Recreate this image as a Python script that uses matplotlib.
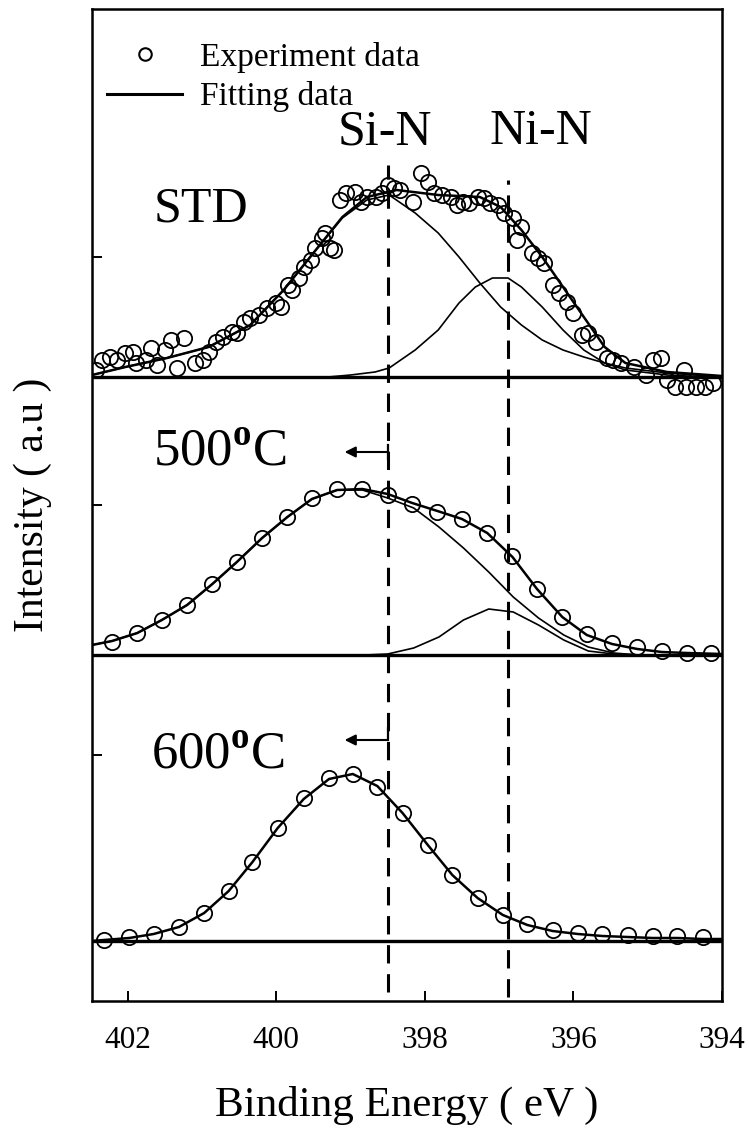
import numpy as np
import matplotlib
matplotlib.use("Agg")
import matplotlib.pyplot as plt

plt.rcParams['font.family'] = ['Liberation Serif', 'DejaVu Serif']
plt.rcParams['mathtext.fontset'] = 'custom'
plt.rcParams['mathtext.rm'] = 'Liberation Serif'
plt.rcParams['mathtext.bf'] = 'Liberation Serif:bold'

# ---- STD spectrum (experiment) ----
std_e = [402.42, 402.34, 402.24, 402.14, 402.03, 401.93, 401.89, 401.75, 401.69, 401.61,
         401.50, 401.41, 401.33, 401.24, 401.10, 400.99, 400.91, 400.81, 400.71, 400.60,
         400.53, 400.43, 400.35, 400.23, 400.12, 400.01, 399.93, 399.84, 399.79, 399.70,
         399.62, 399.53, 399.48, 399.39, 399.34, 399.28, 399.22, 399.14, 399.06, 398.94,
         398.86, 398.78, 398.66, 398.58, 398.50, 398.41, 398.33, 398.16, 398.05, 397.96,
         397.88, 397.77, 397.65, 397.57, 397.49, 397.40, 397.29, 397.21, 397.12, 397.01,
         396.93, 396.81, 396.70, 396.76, 396.56, 396.48, 396.39, 396.28, 396.20, 396.08,
         396.00, 395.89, 395.80, 395.69, 395.55, 395.47, 395.36, 395.19, 395.02, 394.93,
         394.82, 394.74, 394.63, 394.51, 394.49, 394.35, 394.23, 394.12]
std_i = [0.07, 0.17, 0.20, 0.17, 0.24, 0.25, 0.14, 0.17, 0.29, 0.12,
         0.27, 0.37, 0.09, 0.39, 0.14, 0.17, 0.25, 0.35, 0.40, 0.45,
         0.44, 0.55, 0.59, 0.62, 0.69, 0.74, 0.70, 0.92, 0.87, 0.99,
         1.10, 1.17, 1.29, 1.39, 1.44, 1.29, 1.27, 1.77, 1.84, 1.85,
         1.75, 1.80, 1.80, 1.84, 1.92, 1.89, 1.87, 1.75, 2.04, 1.95,
         1.84, 1.82, 1.80, 1.72, 1.75, 1.74, 1.80, 1.79, 1.74, 1.72,
         1.64, 1.59, 1.50, 1.37, 1.24, 1.19, 1.14, 0.92, 0.84, 0.75,
         0.64, 0.42, 0.44, 0.35, 0.19, 0.17, 0.14, 0.10, 0.02, 0.17,
         0.19, -0.03, -0.10, 0.07, -0.10, -0.10, -0.10, -0.06]

# STD fitting envelope and components
std_fit_e = [402.48, 402.03, 401.47, 400.91, 400.35, 399.90, 399.50, 399.11, 398.78, 398.38,
             397.82, 397.26, 396.98, 396.70, 396.42, 396.14, 395.86, 395.58, 395.30, 394.74,
             394.18, 394.0]
std_fit_i = [0.02, 0.10, 0.19, 0.30, 0.52, 0.87, 1.24, 1.60, 1.80, 1.87,
             1.82, 1.80, 1.70, 1.47, 1.20, 0.90, 0.60, 0.30, 0.14, 0.05,
             0.02, 0.01]
std_sin_e = [402.48, 402.03, 401.47, 400.91, 400.35, 399.90, 399.50, 399.11, 398.78, 398.48,
             398.13, 397.82, 397.54, 397.26, 396.98, 396.70, 396.42, 396.14, 395.86, 395.58,
             395.30, 394.74, 394.18, 394.0]
std_sin_i = [0.02, 0.10, 0.19, 0.30, 0.52, 0.87, 1.24, 1.59, 1.77, 1.82,
             1.64, 1.44, 1.20, 0.94, 0.70, 0.52, 0.37, 0.27, 0.20, 0.14,
             0.09, 0.04, 0.01, 0.01]
std_nin_e = [399.30, 399.00, 398.67, 398.48, 398.13, 397.82, 397.54, 397.32, 397.09, 396.88,
             396.70, 396.42, 396.14, 395.86, 395.58, 395.30, 394.74, 394.20]
std_nin_i = [0.0, 0.02, 0.05, 0.09, 0.27, 0.47, 0.74, 0.90, 0.99, 0.99,
             0.90, 0.70, 0.47, 0.27, 0.14, 0.07, 0.02, 0.0]

# ---- 500 C spectrum ----
e500 = [402.21, 401.87, 401.54, 401.20, 400.86, 400.53, 400.19, 399.85, 399.52, 399.18,
        398.84, 398.50, 398.17, 397.83, 397.50, 397.16, 396.82, 396.49, 396.15, 395.82,
        395.48, 395.14, 394.81, 394.47, 394.15]
i500 = [0.13, 0.22, 0.35, 0.50, 0.71, 0.93, 1.17, 1.38, 1.57, 1.66,
        1.66, 1.60, 1.51, 1.43, 1.36, 1.22, 0.99, 0.66, 0.38, 0.21,
        0.12, 0.08, 0.04, 0.02, 0.02]
fit500_e = [402.48, 402.21, 401.87, 401.54, 401.20, 400.86, 400.53, 400.19, 399.85, 399.52,
            399.18, 398.84, 398.50, 398.17, 397.83, 397.50, 397.16, 396.82, 396.49, 396.15,
            395.82, 395.48, 395.14, 394.81, 394.47, 394.0]
fit500_i = [0.10, 0.14, 0.22, 0.35, 0.50, 0.71, 0.93, 1.17, 1.38, 1.56,
            1.65, 1.66, 1.61, 1.52, 1.44, 1.36, 1.22, 0.98, 0.66, 0.38,
            0.20, 0.11, 0.06, 0.03, 0.02, 0.01]
sin500_e = [402.48, 402.21, 401.87, 401.54, 401.20, 400.86, 400.53, 400.19, 399.85, 399.52,
            399.18, 398.84, 398.50, 398.15, 397.81, 397.48, 397.14, 396.81, 396.47, 396.13,
            395.80, 395.46, 395.12, 394.0]
sin500_i = [0.10, 0.14, 0.22, 0.35, 0.50, 0.71, 0.93, 1.17, 1.38, 1.56,
            1.65, 1.65, 1.57, 1.47, 1.28, 1.07, 0.83, 0.58, 0.37, 0.20,
            0.08, 0.02, 0.0, 0.0]
nin500_e = [398.80, 398.50, 398.15, 397.81, 397.48, 397.14, 396.81, 396.47, 396.13, 395.80,
            395.46, 395.10]
nin500_i = [0.0, 0.01, 0.07, 0.18, 0.35, 0.46, 0.43, 0.30, 0.15, 0.04,
            0.01, 0.0]

# ---- 600 C spectrum ----
e600 = [402.32, 401.98, 401.65, 401.31, 400.97, 400.64, 400.32, 399.98, 399.63, 399.29,
        398.97, 398.64, 398.30, 397.96, 397.63, 397.29, 396.95, 396.62, 396.28, 395.94,
        395.61, 395.27, 394.93, 394.60, 394.26]
i600 = [0.01, 0.04, 0.07, 0.14, 0.28, 0.50, 0.79, 1.13, 1.43, 1.63,
        1.67, 1.54, 1.28, 0.96, 0.66, 0.43, 0.26, 0.17, 0.11, 0.08,
        0.07, 0.06, 0.05, 0.05, 0.04]
fit600_e = [402.48, 402.32, 401.98, 401.65, 401.31, 400.97, 400.64, 400.32, 399.98, 399.63,
            399.29, 398.97, 398.64, 398.30, 397.96, 397.63, 397.29, 396.95, 396.62, 396.28,
            395.94, 395.61, 395.27, 394.93, 394.60, 394.26, 394.0]
fit600_i = [0.0, 0.01, 0.03, 0.07, 0.14, 0.28, 0.50, 0.79, 1.13, 1.42,
            1.62, 1.67, 1.55, 1.28, 0.96, 0.66, 0.43, 0.26, 0.16, 0.10,
            0.07, 0.05, 0.04, 0.03, 0.03, 0.02, 0.02]

# vertical offsets of the stacked spectra
offsets = {'STD': 6.24, '500': 3.46, '600': 0.60}
ytick_pos = [2.46, 4.96, 7.44]
xticks = [402, 400, 398, 396, 394]
si_n, ni_n = 398.5, 396.88

fig = plt.figure(figsize=(7.49, 11.28), dpi=100)
ax = fig.add_axes([92 / 749, 1 - 1001 / 1128, 630 / 749, 992 / 1128])

mk = dict(ls='none', marker='o', ms=11, mfc='none', mec='black', mew=1.3, zorder=4)

# baselines
for off in offsets.values():
    ax.axhline(off, color='black', lw=2.4, zorder=3)

o = offsets['STD']
ax.plot(std_fit_e, np.array(std_fit_i) + o, color='black', lw=1.8, zorder=3)
ax.plot(std_sin_e, np.array(std_sin_i) + o, color='black', lw=1.2, zorder=3)
ax.plot(std_nin_e, np.array(std_nin_i) + o, color='black', lw=1.2, zorder=3)
ax.plot(std_e, np.array(std_i) + o, **mk)

o = offsets['500']
ax.plot(fit500_e, np.array(fit500_i) + o, color='black', lw=1.8, zorder=3)
ax.plot(sin500_e, np.array(sin500_i) + o, color='black', lw=1.2, zorder=3)
ax.plot(nin500_e, np.array(nin500_i) + o, color='black', lw=1.2, zorder=3)
ax.plot(e500, np.array(i500) + o, **mk)

o = offsets['600']
ax.plot(fit600_e, np.array(fit600_i) + o, color='black', lw=1.8, zorder=3)
ax.plot(e600, np.array(i600) + o, **mk)

# dashed peak positions
ax.plot([si_n, si_n], [0.09, 8.36], color='black', lw=2.2, dashes=(6, 3.5), zorder=2)
ax.plot([ni_n, ni_n], [0.04, 8.21], color='black', lw=2.2, dashes=(6, 3.5), zorder=2)

# labels
ax.text(401.01, 7.92, 'STD', fontsize=36, ha='center', va='center')
ax.text(400.76, 5.49, r'500$^{\mathbf{o}}$C', fontsize=38, ha='center', va='center')
ax.text(400.79, 2.46, r'600$^{\mathbf{o}}$C', fontsize=38, ha='center', va='center')
ax.text(398.54, 8.69, 'Si-N', fontsize=36, ha='center', va='center')
ax.text(396.44, 8.69, 'Ni-N', fontsize=36, ha='center', va='center')

# shift arrows
for ya, bar in [(5.49, (5.42, 5.56)), (2.61, (2.61, 2.73))]:
    ax.annotate('', xy=(399.08, ya), xytext=(si_n, ya),
                arrowprops=dict(arrowstyle='-|>', color='black', lw=1.5, mutation_scale=16,
                                shrinkA=0, shrinkB=0))
    ax.plot([si_n, si_n], bar, color='black', lw=1.6)

# legend
h1, = ax.plot([], [], ls='none', marker='o', ms=9, mfc='none', mec='black', mew=1.5)
h2, = ax.plot([], [], color='black', lw=2.2)
ax.legend([h1, h2], ['Experiment data', 'Fitting data'], loc='upper left',
          bbox_to_anchor=(107 / 749, 1 - 42 / 1128), bbox_transform=fig.transFigure,
          frameon=False, fontsize=24, handlelength=2.25, handletextpad=0.55,
          labelspacing=0.25, borderpad=0, borderaxespad=0)

ax.set_xlim(402.48, 394.0)
ax.set_ylim(0, 9.92)
ax.set_xticks(xticks)
ax.set_xticklabels([str(v) for v in xticks])
ax.set_yticks(ytick_pos)
ax.set_yticklabels([])
ax.tick_params(axis='x', direction='in', length=7, width=1.4, labelsize=22.5, pad=18)
ax.tick_params(axis='y', direction='in', length=7, width=1.4)
for sp in ax.spines.values():
    sp.set_linewidth(1.8)

ax.set_xlabel('Binding Energy ( eV )', fontsize=31)
ax.xaxis.set_label_coords(0.5, -0.105)
ax.xaxis.label.set_va('center')
ax.set_ylabel('Intensity ( a.u )', fontsize=30)
ax.yaxis.set_label_coords(-0.094, 0.5)
ax.yaxis.label.set_va('center')

fig.savefig('out.png', dpi=100)
